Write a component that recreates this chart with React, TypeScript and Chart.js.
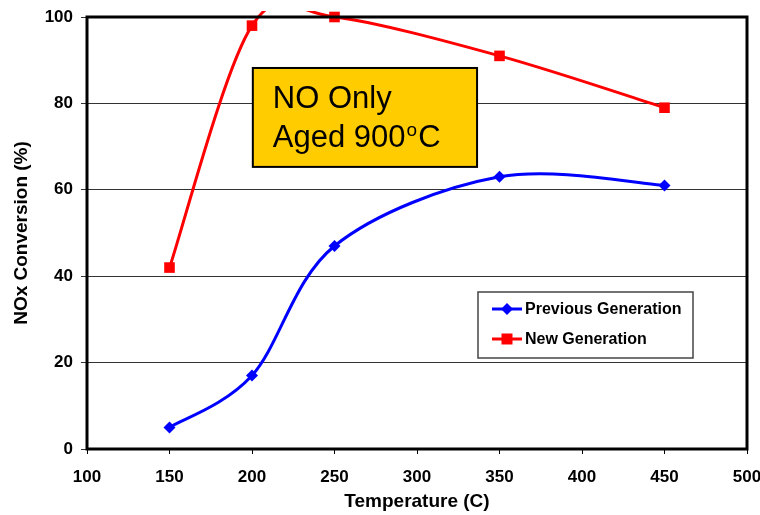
import React, { useEffect, useRef } from 'react';
import { Chart, registerables } from 'chart.js';

Chart.register(...registerables);

const temperatures = [150, 200, 250, 350, 450];
const previousGeneration = [5, 17, 47, 63, 61];
const newGeneration = [42, 98, 100, 91, 79];
const seriesNames = ['Previous Generation', 'New Generation'];
const xTickValues = [100, 150, 200, 250, 300, 350, 400, 450, 500];
const yTickValues = [0, 20, 40, 60, 80, 100];
const xTitle = 'Temperature (C)';
const yTitle = 'NOx Conversion (%)';
const noteLine1 = 'NO Only';
const noteLine2 = 'Aged 900';
const noteSup = 'o';
const noteEnd = 'C';

const FONT = '"Liberation Sans", Arial, sans-serif';

// Excel-style smoothing: Bezier control points at 1/6 of neighbour difference
const excelSmoothPlugin = {
  id: 'excelSmooth',
  beforeDatasetDraw(chart: any, args: any) {
    const meta = args.meta;
    const line = meta.dataset;
    line.updateControlPoints(chart.chartArea, meta.iScale.axis);
    const pts = meta.data;
    const n = pts.length;
    for (let i = 0; i < n; i++) {
      const p = pts[i];
      const prev = pts[Math.max(0, i - 1)];
      const next = pts[Math.min(n - 1, i + 1)];
      const dx = (next.x - prev.x) / 6;
      const dy = (next.y - prev.y) / 6;
      p.cp1x = p.x - dx;
      p.cp1y = p.y - dy;
      p.cp2x = p.x + dx;
      p.cp2y = p.y + dy;
    }
    line._path = undefined;
  },
};

const framePlugin = {
  id: 'frame',
  afterDatasetsDraw(chart: any) {
    const { ctx, chartArea: a, scales } = chart;
    ctx.save();
    // annotation box
    const x0 = scales.x.getPixelForValue(200.5);
    const x1 = scales.x.getPixelForValue(336.4);
    const y0 = scales.y.getPixelForValue(88.2);
    const y1 = scales.y.getPixelForValue(65.3);
    ctx.fillStyle = '#FFCC00';
    ctx.fillRect(x0, y0, x1 - x0, y1 - y0);
    ctx.strokeStyle = '#000';
    ctx.lineWidth = 2;
    ctx.strokeRect(x0, y0, x1 - x0, y1 - y0);
    ctx.fillStyle = '#000';
    ctx.textBaseline = 'alphabetic';
    ctx.textAlign = 'left';
    ctx.font = `31px ${FONT}`;
    const tx = x0 + 20;
    ctx.fillText(noteLine1, tx, y0 + 40);
    const l2y = y0 + 79;
    ctx.fillText(noteLine2, tx, l2y);
    const w = ctx.measureText(noteLine2).width;
    ctx.font = `19px ${FONT}`;
    ctx.fillText(noteSup, tx + w + 1, l2y - 11);
    const ws = ctx.measureText(noteSup).width;
    ctx.font = `31px ${FONT}`;
    ctx.fillText(noteEnd, tx + w + ws + 2, l2y);

    // plot frame
    ctx.strokeStyle = '#000';
    ctx.lineWidth = 3;
    ctx.strokeRect(a.left, a.top, a.right - a.left, a.bottom - a.top);

    // legend
    const lx = 478, ly = 292, lw = 215, lh = 66;
    ctx.fillStyle = '#fff';
    ctx.fillRect(lx, ly, lw, lh);
    ctx.strokeStyle = '#444';
    ctx.lineWidth = 1.5;
    ctx.strokeRect(lx, ly, lw, lh);
    const rows = [ly + 17, ly + 47];
    chart.data.datasets.forEach((ds: any, i: number) => {
      const cy = rows[i];
      ctx.strokeStyle = ds.borderColor;
      ctx.lineWidth = 3;
      ctx.beginPath();
      ctx.moveTo(lx + 14, cy);
      ctx.lineTo(lx + 44, cy);
      ctx.stroke();
      ctx.fillStyle = ds.borderColor;
      ctx.beginPath();
      if (ds.pointStyle === 'rectRot') {
        const r = 6;
        ctx.moveTo(lx + 29, cy - r);
        ctx.lineTo(lx + 29 + r, cy);
        ctx.lineTo(lx + 29, cy + r);
        ctx.lineTo(lx + 29 - r, cy);
        ctx.closePath();
      } else {
        ctx.rect(lx + 29 - 5.5, cy - 5.5, 11, 11);
      }
      ctx.fill();
      ctx.fillStyle = '#000';
      ctx.font = `bold 16px ${FONT}`;
      ctx.textBaseline = 'middle';
      ctx.fillText(ds.label, lx + 47, cy + 1);
    });
    ctx.restore();
  },
};

export default function App() {
  const ref = useRef<HTMLCanvasElement>(null);
  useEffect(() => {
    document.body.style.margin = '0';
    const chart = new Chart(ref.current!, {
      type: 'line',
      data: {
        datasets: [
          {
            label: seriesNames[0],
            data: temperatures.map((t, i) => ({ x: t, y: previousGeneration[i] })),
            borderColor: '#0000FF',
            backgroundColor: '#0000FF',
            borderWidth: 3,
            pointStyle: 'rectRot',
            pointRadius: 6,
            pointBorderWidth: 0,
            tension: 0.4,
            capBezierPoints: false,
            clip: { left: 5, right: 5, top: 6, bottom: 5 },
          },
          {
            label: seriesNames[1],
            data: temperatures.map((t, i) => ({ x: t, y: newGeneration[i] })),
            borderColor: '#FF0000',
            backgroundColor: '#FF0000',
            borderWidth: 3,
            pointStyle: 'rect',
            pointRadius: 7.5,
            pointBorderWidth: 0,
            tension: 0.4,
            capBezierPoints: false,
            clip: { left: 5, right: 5, top: 6, bottom: 5 },
          },
        ],
      },
      options: {
        animation: false,
        responsive: false,
        maintainAspectRatio: false,
        layout: { padding: { left: 0, top: 17, right: 13, bottom: 0 } },
        plugins: { legend: { display: false }, tooltip: { enabled: false } },
        scales: {
          x: {
            type: 'linear',
            min: 100,
            max: 500,
            afterBuildTicks: (s: any) => { s.ticks = xTickValues.map((v) => ({ value: v })); },
            afterFit: (s: any) => { s.height = 66; s.paddingLeft = 0; s.paddingRight = 0; },
            ticks: { color: '#000', font: { family: FONT, size: 17, weight: 'bold' }, padding: 13, maxRotation: 0 },
            grid: { drawOnChartArea: false, drawTicks: true, tickLength: 5, color: '#000', lineWidth: 1 },
            border: { display: false },
            title: { display: true, text: xTitle, color: '#000', font: { family: FONT, size: 19, weight: 'bold' }, padding: { top: 0, bottom: 2 } },
          },
          y: {
            min: 0,
            max: 100,
            afterBuildTicks: (s: any) => { s.ticks = yTickValues.map((v) => ({ value: v })); },
            afterFit: (s: any) => { s.width = 87; s.paddingTop = 0; s.paddingBottom = 0; },
            ticks: { color: '#000', font: { family: FONT, size: 17, weight: 'bold' }, padding: 8 },
            grid: { drawTicks: true, tickLength: 6, color: '#333', lineWidth: 1 },
            border: { display: false },
            title: { display: true, text: yTitle, color: '#000', font: { family: FONT, size: 19, weight: 'bold' }, padding: { top: 10, bottom: 0 } },
          },
        },
      },
      plugins: [excelSmoothPlugin, framePlugin],
    });
    return () => chart.destroy();
  }, []);
  return <canvas ref={ref} width={760} height={515} style={{ display: 'block' }} />;
}
